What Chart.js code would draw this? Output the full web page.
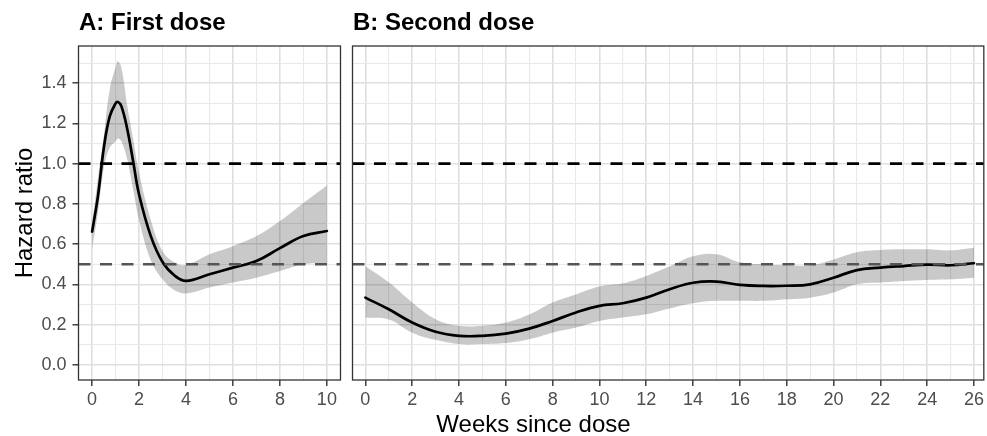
<!DOCTYPE html>
<html><head><meta charset="utf-8">
<script src="https://cdn.jsdelivr.net/npm/chart.js@4.4.0/dist/chart.umd.min.js"></script>
<style>
html,body{margin:0;padding:0;background:#fff;overflow:hidden;width:987px;height:436px;}
canvas{position:absolute;top:0;}
#cA{left:0;} #cB{left:346px;}
</style></head><body>
<canvas id="cA" width="342" height="436"></canvas>
<canvas id="cB" width="641" height="436"></canvas>
<script>
// ---- data ----
const panelTitles = ['A: First dose', 'B: Second dose'];
const xTitle = 'Weeks since dose';
const yTitle = 'Hazard ratio';

const weeksA = [0, 0.25, 0.5, 0.75, 1, 1.1, 1.25, 1.5, 1.75, 2, 2.5, 3, 3.5, 4, 5, 6, 7, 8, 9, 10];
const hrA    = [0.662, 0.84, 1.08, 1.235, 1.30, 1.307, 1.285, 1.17, 1.01, 0.847, 0.64, 0.511, 0.445, 0.417, 0.45, 0.483, 0.516, 0.58, 0.64, 0.665];
const upperA = [0.70, 0.93, 1.14, 1.37, 1.48, 1.509, 1.476, 1.285, 1.12, 0.955, 0.72, 0.566, 0.51, 0.497, 0.55, 0.59, 0.64, 0.715, 0.805, 0.892];
const lowerA = [0.574, 0.76, 0.98, 1.08, 1.11, 1.125, 1.11, 1.02, 0.87, 0.72, 0.52, 0.425, 0.372, 0.355, 0.384, 0.409, 0.433, 0.466, 0.50, 0.505];

const weeksB = [0,1,2,3,4,5,6,7,8,9,10,11,12,13,14,15,16,17,18,19,20,21,22,23,24,25,26];
const hrB    = [0.334,0.276,0.21,0.164,0.144,0.144,0.155,0.18,0.218,0.26,0.293,0.306,0.334,0.376,0.408,0.414,0.397,0.392,0.393,0.40,0.433,0.471,0.483,0.491,0.498,0.495,0.505];
const upperB = [0.49,0.41,0.31,0.227,0.194,0.194,0.21,0.25,0.31,0.35,0.389,0.405,0.442,0.49,0.54,0.55,0.51,0.50,0.495,0.495,0.524,0.56,0.571,0.574,0.574,0.569,0.582];
const lowerB = [0.235,0.225,0.16,0.124,0.103,0.103,0.108,0.127,0.16,0.185,0.218,0.235,0.251,0.28,0.306,0.318,0.318,0.318,0.326,0.334,0.359,0.40,0.409,0.417,0.422,0.425,0.433];

const refLines = [1.0, 0.5];
const yGridVals = [0,0.1,0.2,0.3,0.4,0.5,0.6,0.7,0.8,0.9,1.0,1.1,1.2,1.3,1.4,1.5];
const xGridA = [0,1,2,3,4,5,6,7,8,9,10];
const xGridB = [0,1,2,3,4,5,6,7,8,9,10,11,12,13,14,15,16,17,18,19,20,21,22,23,24,25,26];

// ---- rendering ----
const FONT = '"Liberation Sans", Arial, Helvetica, sans-serif';
const toXY = (xs, ys) => xs.map((x, i) => ({x: x, y: ys[i]}));
const isMajorY = v => Math.round(v * 10) % 2 === 0;
const isMajorX = v => Math.round(v) % 2 === 0;

function gridOpts(isMajor, showTicks) {
  return {
    color: c => (c.tick && isMajor(c.tick.value)) ? '#dfdfdf' : '#e9e9e9',
    lineWidth: c => (c.tick && isMajor(c.tick.value)) ? 1.6 : 1.1,
    drawTicks: showTicks,
    tickLength: 6,
    tickWidth: 1.4,
    tickColor: c => (c.tick && isMajor(c.tick.value)) ? '#333333' : 'rgba(0,0,0,0)'
  };
}

function xScale(min, max, vals) {
  return {
    type: 'linear', min: min, max: max,
    afterBuildTicks: s => { s.ticks = vals.map(v => ({value: v})); },
    ticks: { autoSkip: false, maxRotation: 0, color: '#4d4d4d', padding: 3,
      font: {family: FONT, size: 18},
      callback: v => isMajorX(v) ? String(v) : '' },
    grid: gridOpts(isMajorX, true),
    border: {display: false},
    afterFit: s => { s.height = 56; }
  };
}

function yScale(showLabels, width) {
  return {
    type: 'linear', min: -0.0755, max: 1.585,
    afterBuildTicks: s => { s.ticks = yGridVals.map(v => ({value: v})); },
    ticks: { display: showLabels, autoSkip: false, color: '#4d4d4d', padding: 6,
      font: {family: FONT, size: 18},
      callback: v => isMajorY(v) ? v.toFixed(1) : '' },
    grid: gridOpts(isMajorY, showLabels),
    border: {display: false},
    afterFit: s => { s.width = width; }
  };
}

function panelPlugin(title, drawX, drawY) {
  return {
    id: 'panelDeco',
    afterDatasetsDraw(chart) {
      const ctx = chart.ctx, a = chart.chartArea, ys = chart.scales.y;
      ctx.save();
      ctx.beginPath(); ctx.rect(a.left, a.top, a.right - a.left, a.bottom - a.top); ctx.clip();
      refLines.forEach((v, i) => {
        const py = ys.getPixelForValue(v);
        ctx.beginPath();
        ctx.strokeStyle = i === 0 ? '#000000' : '#555555';
        ctx.lineWidth = i === 0 ? 2.7 : 2.3;
        ctx.setLineDash([12, 9.5]);
        ctx.moveTo(a.left, py); ctx.lineTo(a.right, py);
        ctx.stroke();
      });
      ctx.restore();
      ctx.save();
      ctx.strokeStyle = '#333333'; ctx.lineWidth = 1.3;
      ctx.strokeRect(a.left, a.top, a.right - a.left, a.bottom - a.top);
      ctx.restore();
    },
    afterDraw(chart) {
      const ctx = chart.ctx, a = chart.chartArea;
      ctx.save();
      ctx.fillStyle = '#000';
      ctx.font = 'bold 24px ' + FONT;
      ctx.textAlign = 'left'; ctx.textBaseline = 'alphabetic';
      ctx.fillText(title, a.left + 0.5, 30);
      if (drawY) {
        ctx.font = '24px ' + FONT;
        ctx.translate(31.5, (a.top + a.bottom) / 2);
        ctx.rotate(-Math.PI / 2);
        ctx.textAlign = 'center';
        ctx.fillText(yTitle, 0, 0);
        ctx.setTransform(1, 0, 0, 1, 0, 0);
      }
      if (drawX) {
        ctx.font = '24px ' + FONT;
        ctx.textAlign = 'center';
        ctx.fillText(xTitle, 533.5 - 346, 432);
      }
      ctx.restore();
    }
  };
}

function makeDatasets(xs, hr, up, lo) {
  return [
    {label: 'HR', data: toXY(xs, hr), borderColor: '#000000', borderWidth: 2.7, pointRadius: 0,
     tension: 0.4, fill: false},
    {label: 'upper', data: toXY(xs, up), borderColor: 'rgba(0,0,0,0)', borderWidth: 1, pointRadius: 0,
     tension: 0.4, fill: '+1', backgroundColor: 'rgba(0,0,0,0.21)'},
    {label: 'lower', data: toXY(xs, lo), borderColor: 'rgba(0,0,0,0)', borderWidth: 1, pointRadius: 0,
     tension: 0.4, fill: false}
  ];
}

const common = {
  responsive: false, animation: false, devicePixelRatio: 1,
  plugins: {legend: {display: false}, tooltip: {enabled: false}, title: {display: false}},
  elements: {line: {borderCapStyle: 'round', borderJoinStyle: 'round'}}
};

new Chart(document.getElementById('cA'), {
  type: 'line',
  data: {datasets: makeDatasets(weeksA, hrA, upperA, lowerA)},
  options: Object.assign({}, common, {
    layout: {padding: {top: 46, right: 1.5, left: 0, bottom: 0}},
    scales: {x: xScale(-0.58, 10.58, xGridA), y: yScale(true, 78.5)}
  }),
  plugins: [panelPlugin(panelTitles[0], false, true)]
});

new Chart(document.getElementById('cB'), {
  type: 'line',
  data: {datasets: makeDatasets(weeksB, hrB, upperB, lowerB)},
  options: Object.assign({}, common, {
    layout: {padding: {top: 46, right: 0.5, left: 0, bottom: 0}},
    scales: {x: xScale(-0.55, 26.42, xGridB), y: yScale(false, 6.5)}
  }),
  plugins: [panelPlugin(panelTitles[1], true, false)]
});
</script>
</body></html>
